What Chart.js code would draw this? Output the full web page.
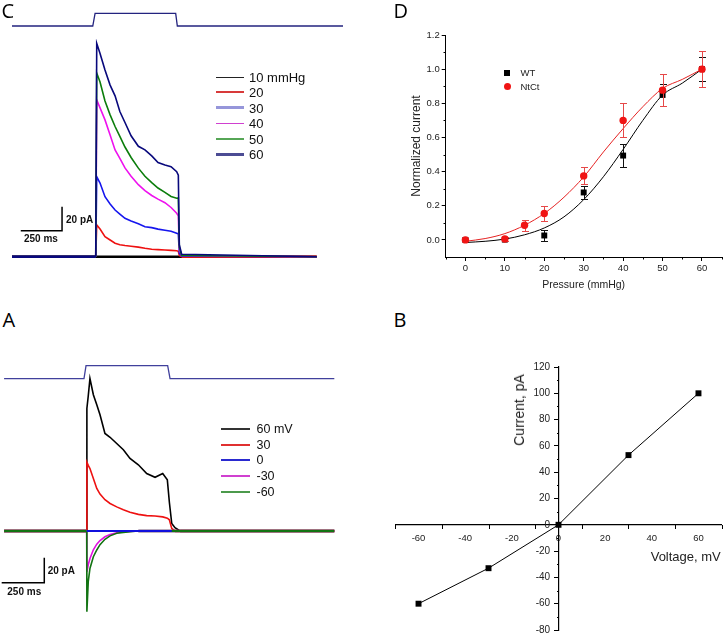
<!DOCTYPE html>
<html>
<head>
<meta charset="utf-8">
<title>Mechanosensitive currents</title>
<script src="https://cdn.jsdelivr.net/npm/chart.js@4.4.1/dist/chart.umd.min.js"></script>
<style>
  html, body { margin: 0; padding: 0; background: #fff; }
  #wrap { position: relative; width: 726px; height: 638px; overflow: hidden; background: #fff;
          font-family: 'Liberation Sans', Arial, sans-serif; color: #111; }
  #wrap canvas { position: absolute; }
  .txt { position: absolute; white-space: nowrap; line-height: 1; transform: translateY(-50%); }
  .swatch { position: absolute; }
  .mark { position: absolute; }
</style>
</head>
<body>
<div id="wrap">
  <canvas id="chartC" width="331" height="253" style="left:12px;top:9px"></canvas>
  <canvas id="chartA" width="334" height="260" style="left:1px;top:362px"></canvas>
  <canvas id="chartD" width="326" height="269" style="left:400px;top:25px"></canvas>
  <canvas id="chartB" width="335" height="283" style="left:391px;top:357px"></canvas>
</div>
<script>
// ================= DATA =================
// Panel C : currents at pressure steps (time in ms from step onset, current in pA)
const timeC  = [-507, 0, 6, 26, 56, 87, 117, 146, 177, 214, 258, 298, 339, 377, 419, 456, 490, 500, 506, 520, 1338];
const curC60 = [0, 0, 177.8, 169.4, 155.6, 143, 134, 121, 111.8, 100.8, 92, 89, 84, 78.5, 76.4, 75, 70.8, 68, 10, 2, 0];
const curC50 = [0, 0, 153, 145.6, 129.7, 118.2, 108.5, 100.2, 91.4, 82.7, 73.8, 67, 61.8, 57.2, 53.6, 50.2, 48.7, 49, 8, 1, 0];
const curC40 = [0, 0, 130.6, 124, 114, 101.4, 89, 82, 74, 67, 60, 55, 51, 48, 45, 41, 36.2, 34, 6, 1, 0];
const curC30 = [0, 0, 66.6, 61.4, 50, 43.9, 38.9, 35.5, 32, 29.8, 27.5, 25, 24.2, 23, 22, 21.2, 19.5, 19, 3, 0.5, 0];
const curC20 = [0, 0, 26.4, 23, 16.7, 13.9, 11.2, 10, 9.3, 8.7, 8, 7, 6.2, 5.9, 5.6, 5.3, 5, 4.5, 1, 0, 0];
const curC10 = [0, 0, 0, 0, 0, 0, 0, 0, 0, 0, 0, 0, 0, 0, 0, 0, 0, 0, 0, 0, 0];
const labelsC = ['10 mmHg', '20', '30', '40', '50', '60'];
const protTimeC  = [-507, -18, -4, 484, 494, 1497];
const protLevelC = [0, 0, 1, 1, 0, 0];
const barTimeC = [-454, -204, -204];   // 250 ms
const barCurC  = [21.7, 21.7, 41.7];   // 20 pA

// Panel A : currents at holding voltages
const timeA   = [-485, 0, 1, 9, 19, 39, 59, 78, 107, 137, 176, 215, 254, 303, 352, 401, 446, 473, 485, 499, 518, 548, 1453];
const curA60  = [0, 0, 98, 108, 122, 109, 101, 93, 78, 75, 70, 65, 58, 53, 46, 43, 46, 41, 23, 6, 2.6, 0, 0];
const curA30  = [0, 0, 55, 52.5, 50, 42, 34, 29.5, 25, 22, 19.3, 17, 15, 13.3, 12.3, 12, 11.3, 10.3, 9, 2, 0, 0, 0];
const curA0   = [0, 0, 0, 0, 0, 0, 0, 0, 0, 0, 0, 0, 0, 0, 0, 0, 0, 0, 0, 0, 0, 0, 0];
const curAm30 = [0, 0, -32.6, -27, -22, -15, -10.5, -7.6, -4.6, -2.9, -1.4, -0.8, -0.4, 0, 0, 0, 0, 0, 0, 0, 0, 0, 0];
const curAm60 = [0, 0, -64.6, -40.5, -30, -20.6, -15.2, -10.9, -6.6, -3.9, -1.8, -1.1, -0.5, 0, 0, 0, 0, 0, 0, 0, 0, 0, 0];
const labelsA = ['60 mV', '30', '0', '-30', '-60'];
const protTimeA  = [-485, -16, -4, 475, 489, 1453];
const protLevelA = [0, 0, 1, 1, 0, 0];
const barTimeA = [-499, -249, -249];
const barCurA  = [-41.4, -41.4, -21.4];

// Panel D : normalized current vs pressure
const seriesD  = ['WT', 'NtCt'];
const pressWT  = [0, 10, 20, 30, 40, 50, 60];
const normWT   = [0, 0.002, 0.026, 0.278, 0.494, 0.849, 1.0];
const errWT    = [0.005, 0.008, 0.03, 0.038, 0.066, 0.066, 0.07];
const pressNt  = [0, 10, 15, 20, 30, 40, 50, 60];
const normNt   = [0, 0.005, 0.086, 0.155, 0.375, 0.70, 0.877, 1.0];
const errNt    = [0.005, 0.01, 0.033, 0.044, 0.05, 0.1, 0.093, 0.105];
const fitPress = [0, 5, 10, 15, 20, 25, 30, 35, 40, 45, 50, 55, 60];
const fitWT    = [-0.015, -0.008, 0.005, 0.03, 0.07, 0.135, 0.236, 0.37, 0.53, 0.70, 0.848, 0.918, 1.0];
const fitNt    = [-0.008, 0.008, 0.037, 0.086, 0.155, 0.25, 0.369, 0.515, 0.652, 0.78, 0.887, 0.94, 1.0];
const ticksDx  = [0, 10, 20, 30, 40, 50, 60];
const minorDx  = [-5, 5, 15, 25, 35, 45, 55, 65];
const ticksDy  = [0, 0.2, 0.4, 0.6, 0.8, 1.0, 1.2];
const minorDy  = [0.1, 0.3, 0.5, 0.7, 0.9, 1.1];

// Panel B : I-V relation
const voltB   = [-60, -30, 0, 30, 60];
const curB    = [-60, -33, 0, 53, 100];
const ticksBx = [-60, -40, -20, 0, 20, 40, 60];
const minorBx = [-70, -50, -30, -10, 10, 30, 50, 70];
const ticksBy = [-80, -60, -40, -20, 0, 20, 40, 60, 80, 100, 120];
const minorBy = [-70, -50, -30, -10, 10, 30, 50, 70, 90, 110];

// ================= HELPERS =================
const FONT = "'Liberation Sans', Arial, sans-serif";
const wrap = document.getElementById('wrap');
function addText(text, left, cy, style) {
  const d = document.createElement('div');
  d.className = 'txt';
  d.textContent = text;
  d.style.left = left + 'px';
  d.style.top = cy + 'px';
  Object.assign(d.style, style || {});
  wrap.appendChild(d);
  return d;
}
function addSwatch(x1, x2, cy, color, w) {
  const d = document.createElement('div');
  d.className = 'swatch';
  d.style.left = x1 + 'px';
  d.style.width = (x2 - x1) + 'px';
  d.style.top = (cy - w / 2) + 'px';
  d.style.height = w + 'px';
  d.style.background = color;
  wrap.appendChild(d);
}
const pts = (xs, ys) => xs.map((x, i) => ({x: x, y: ys[i]}));

function minorTicks(list) {
  return {
    id: 'minorTicks',
    afterDraw(chart) {
      const ctx = chart.ctx;
      ctx.save();
      ctx.strokeStyle = '#000';
      ctx.lineWidth = 1;
      list.forEach(m => {
        const s = chart.scales[m.axis];
        const other = chart.scales[m.axis === 'x' ? 'y' : 'x'];
        const base = Math.round(other.getPixelForValue(m.at));
        ctx.beginPath();
        m.values.forEach(v => {
          const p = Math.round(s.getPixelForValue(v)) + 0.5;
          if (m.axis === 'x') { ctx.moveTo(p, base); ctx.lineTo(p, base + m.len); }
          else { ctx.moveTo(base, p); ctx.lineTo(base - m.len, p); }
        });
        ctx.stroke();
      });
      ctx.restore();
    }
  };
}
const errorBars = {
  id: 'errorBars',
  beforeDatasetDraw(chart, args) {
    const ds = chart.data.datasets[args.index];
    if (!ds.errorBars) return;
    const ctx = chart.ctx, xs = chart.scales.x, ys = chart.scales.y;
    ctx.save();
    ctx.strokeStyle = ds.errorColor;
    ctx.lineWidth = 1;
    ctx.beginPath();
    ds.data.forEach((p, i) => {
      const e = ds.errorBars[i];
      const px = Math.round(xs.getPixelForValue(p.x)) + 0.5;
      const y1 = Math.round(ys.getPixelForValue(p.y + e)) + 0.5;
      const y2 = Math.round(ys.getPixelForValue(p.y - e)) + 0.5;
      ctx.moveTo(px, y1); ctx.lineTo(px, y2);
      ctx.moveTo(px - 3.5, y1); ctx.lineTo(px + 3.5, y1);
      ctx.moveTo(px - 3.5, y2); ctx.lineTo(px + 3.5, y2);
    });
    ctx.stroke();
    ctx.restore();
  }
};

const baseOpts = {
  responsive: false, animation: false, events: [], devicePixelRatio: 1,
  plugins: { legend: { display: false }, tooltip: { enabled: false } }
};
function trace(xs, ys, color) {
  return {
    data: pts(xs, ys), borderColor: color, borderWidth: 1.6, pointRadius: 0,
    tension: 0, fill: false, clip: false,
    segment: { borderWidth: c => (c.p0.parsed.y === 0 && c.p1.parsed.y === 0 ? 2.6 : 1.6) }
  };
}

// ================= PANEL C =================
const colorsC = ['#000000', '#ee1111', '#1515ee', '#ee11ee', '#0b7d0b', '#08087c'];
const curvesC = [curC10, curC20, curC30, curC40, curC50, curC60];
const dsC = [];
for (let i = curvesC.length - 1; i >= 0; i--) dsC.push(trace(timeC, curvesC[i], colorsC[i]));
dsC.push({ data: pts(protTimeC, protLevelC), yAxisID: 'yp', borderColor: '#23237f', borderWidth: 1.3, pointRadius: 0, clip: false });
dsC.push({ data: pts(barTimeC, barCurC), borderColor: '#000', borderWidth: 1.5, pointRadius: 0, clip: false });
new Chart(document.getElementById('chartC'), {
  type: 'line',
  data: { datasets: dsC },
  options: Object.assign({}, baseOpts, {
    layout: { padding: 0 },
    scales: {
      x: { type: 'linear', display: false, min: -507, max: 1497 },
      y: { display: false, min: -4.42, max: 206.4 },
      yp: { display: false, min: -18.58, max: 1.339 }
    }
  })
});

// ================= PANEL A =================
const colorsA = ['#000000', '#ee1111', '#1010dd', '#e010e0', '#127312'];
// drawing order, top first: 0 mV, -60, -30, 30, 60
const orderA = [2, 4, 3, 1, 0];
const curvesA = [curA60, curA30, curA0, curAm30, curAm60];
const dsA = orderA.map(k => {
  const d = trace(timeA, curvesA[k], colorsA[k]);
  if (k === 2) {
    d.borderWidth = 1.8;
    d.segment = { borderColor: c => (c.p0.parsed.x >= 0 && c.p1.parsed.x <= 500 ? colorsA[2] : 'rgba(0,0,0,0)') };
  }
  return d;
});
dsA.push({ data: pts(protTimeA, protLevelA), yAxisID: 'yp', borderColor: '#40409c', borderWidth: 1.3, pointRadius: 0, clip: false });
dsA.push({ data: pts(barTimeA, barCurA), borderColor: '#000', borderWidth: 1.5, pointRadius: 0, clip: false });
new Chart(document.getElementById('chartA'), {
  type: 'line',
  data: { datasets: dsA },
  options: Object.assign({}, baseOpts, {
    layout: { padding: 0 },
    scales: {
      x: { type: 'linear', display: false, min: -503, max: 1457 },
      y: { display: false, min: -72.8, max: 135.2 },
      yp: { display: false, min: -18.715, max: 1.2846 }
    }
  })
});

// ================= PANEL D =================
const tickFont = { family: FONT, size: 9.5 };
new Chart(document.getElementById('chartD'), {
  type: 'line',
  data: { datasets: [
    { data: pts(fitPress, fitWT), borderColor: '#000', borderWidth: 1, pointRadius: 0, cubicInterpolationMode: 'monotone', order: 3 },
    { data: pts(fitPress, fitNt), borderColor: '#e52222', borderWidth: 1, pointRadius: 0, cubicInterpolationMode: 'monotone', order: 2 },
    { label: seriesD[0], data: pts(pressWT, normWT), showLine: false, pointStyle: 'rect', pointRadius: 4.2,
      pointBackgroundColor: '#000', pointBorderWidth: 0, errorBars: errWT, errorColor: '#111', order: 1, clip: false },
    { label: seriesD[1], data: pts(pressNt, normNt), showLine: false, pointStyle: 'circle', pointRadius: 3.7,
      pointBackgroundColor: '#f01414', pointBorderWidth: 0, errorBars: errNt, errorColor: '#e64848', order: 0, clip: false }
  ]},
  options: Object.assign({}, baseOpts, {
    layout: { padding: { left: 0, top: 10, right: 4.3, bottom: 0 } },
    scales: {
      x: {
        type: 'linear', min: -5, max: 65,
        afterBuildTicks: ax => { ax.ticks = ticksDx.map(v => ({ value: v })); },
        afterFit: ax => { ax.height = 37; },
        ticks: { autoSkip: false, maxRotation: 0, padding: 2, font: tickFont, color: '#222', callback: v => String(v) },
        grid: { drawOnChartArea: false, drawTicks: true, tickLength: 4, tickColor: '#000', tickWidth: 1 },
        border: { display: true, color: '#000', width: 1 },
        title: { display: true, text: 'Pressure (mmHg)', color: '#222', font: { family: FONT, size: 10.5 }, padding: { top: 0, bottom: 2.7 } }
      },
      y: {
        type: 'linear', min: -0.1, max: 1.2,
        afterBuildTicks: ax => { ax.ticks = ticksDy.map(v => ({ value: v })); },
        afterFit: ax => { ax.width = 45.7; },
        ticks: { autoSkip: false, padding: 2, font: tickFont, color: '#222', callback: v => v.toFixed(1) },
        grid: { drawOnChartArea: false, drawTicks: true, tickLength: 4, tickColor: '#000', tickWidth: 1 },
        border: { display: true, color: '#000', width: 1 },
        title: { display: true, text: 'Normalized current', color: '#222', font: { family: FONT, size: 12 }, padding: { top: 9.5, bottom: 0 } }
      }
    }
  }),
  plugins: [errorBars, minorTicks([
    { axis: 'x', values: minorDx, at: -0.1, len: 2.5 },
    { axis: 'y', values: minorDy, at: -5, len: 2.5 }
  ])]
});

// ================= PANEL B =================
new Chart(document.getElementById('chartB'), {
  type: 'line',
  data: { datasets: [
    { data: pts(voltB, curB), borderColor: '#000', borderWidth: 1, pointStyle: 'rect', pointRadius: 4.2,
      pointBackgroundColor: '#000', pointBorderWidth: 0, tension: 0, clip: false }
  ]},
  options: Object.assign({}, baseOpts, {
    layout: { padding: { left: 1.7, top: 8.2, right: 2.7, bottom: 6.7 } },
    scales: {
      x: {
        type: 'linear', min: -70, max: 70, position: { y: 0 },
        afterBuildTicks: ax => { ax.ticks = ticksBx.map(v => ({ value: v })); },
        ticks: { autoSkip: false, maxRotation: 0, padding: 4.6, font: { family: FONT, size: 9.5 }, color: '#222', callback: v => String(v) },
        grid: { drawOnChartArea: false, drawTicks: true, tickLength: 3, tickColor: 'rgba(0,0,0,0)' },
        border: { display: true, color: '#000', width: 1.2 }
      },
      y: {
        type: 'linear', min: -80, max: 120, position: { x: 0 },
        afterBuildTicks: ax => { ax.ticks = ticksBy.map(v => ({ value: v })); },
        ticks: { autoSkip: false, padding: 4, font: { family: FONT, size: 10 }, color: '#222', callback: v => String(v) + '   ' },
        grid: { drawOnChartArea: false, drawTicks: true, tickLength: 4, tickColor: '#000', tickWidth: 1 },
        border: { display: true, color: '#000', width: 1.2 }
      }
    }
  }),
  plugins: [minorTicks([
    { axis: 'x', values: minorBx, at: 0, len: 4 },
    { axis: 'y', values: minorBy, at: 0, len: 2 }
  ])]
});

// ================= TEXT, LEGENDS =================
const letterStyle = { fontFamily: "'Open Sans', 'Liberation Sans', sans-serif", fontSize: '20px', color: '#000' };
addText('C', 1.5, 11.2, letterStyle);
addText('D', 393.5, 10.8, letterStyle);
addText('A', 2.5, 320, letterStyle);
addText('B', 393.5, 320.3, letterStyle);

const barStyle = { fontWeight: 'bold', fontSize: '10px', color: '#111' };
addText('20 pA', 66, 220, barStyle);
addText('250 ms', 24, 239.3, barStyle);
addText('20 pA', 47.7, 570.7, barStyle);
addText('250 ms', 7.3, 592.3, barStyle);

// legend C
const legRowsC = [77.3, 92.3, 107.7, 123.3, 139, 154.3];
const legColC = ['#222', '#d83a3a', '#9696da', '#d040d0', '#56a656', '#4c4c94'];
const legWC = [1, 2, 3, 1.5, 1.6, 3];
labelsC.forEach((t, i) => {
  addSwatch(216, 244, legRowsC[i], legColC[i], legWC[i]);
  addText(t, 249, legRowsC[i], { fontSize: '13px', color: '#111' });
});
// legend A
const legRowsA = [429, 445, 460, 475.7, 491.7];
const legColA = ['#333', '#e03030', '#2a2ad0', '#d040d0', '#4c9a4c'];
const legWA = [1.5, 1.5, 1.5, 2, 2];
labelsA.forEach((t, i) => {
  addSwatch(221, 250, legRowsA[i], legColA[i], legWA[i]);
  addText(t, 256.5, legRowsA[i], { fontSize: '12.5px', color: '#111' });
});
// legend D
const sq = document.createElement('div');
sq.className = 'mark';
Object.assign(sq.style, { left: '504.3px', top: '70.3px', width: '6px', height: '6px', background: '#000' });
wrap.appendChild(sq);
const ci = document.createElement('div');
ci.className = 'mark';
Object.assign(ci.style, { left: '503.7px', top: '83.1px', width: '7.2px', height: '7.2px', background: '#f01414', borderRadius: '50%' });
wrap.appendChild(ci);
addText(seriesD[0], 520.5, 73.3, { fontSize: '9.5px', color: '#222' });
addText(seriesD[1], 520.5, 86.9, { fontSize: '9.5px', color: '#222' });

// axis titles of B
addText('Voltage, mV', 650.7, 556, { fontSize: '13px', color: '#222' });
addText('Current, pA', 519.3, 410, { fontSize: '14px', color: '#222', transform: 'translate(-50%,-50%) rotate(-90deg)' });
</script>
</body>
</html>
